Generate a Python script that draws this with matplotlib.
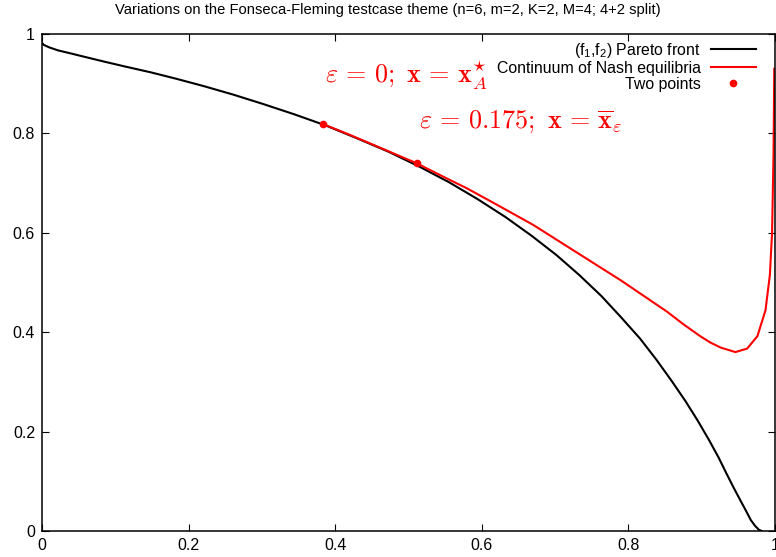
import matplotlib
matplotlib.use("Agg")
import matplotlib.pyplot as plt

# Pareto front (f1, f2)
pareto_f1 = [0.0, 0.0025, 0.010, 0.022, 0.039, 0.061, 0.086, 0.115, 0.148, 0.183,
             0.221, 0.261, 0.302, 0.345, 0.387, 0.430, 0.473, 0.515, 0.555, 0.594,
             0.632, 0.668, 0.702, 0.733, 0.763, 0.790, 0.816, 0.838, 0.859, 0.878,
             0.895, 0.910, 0.923, 0.934, 0.944, 0.953, 0.961, 0.967, 0.973, 0.978, 0.982]
pareto_f2 = [0.982, 0.978, 0.973, 0.967, 0.961, 0.953, 0.944, 0.934, 0.923, 0.910,
             0.895, 0.878, 0.859, 0.838, 0.816, 0.790, 0.763, 0.733, 0.702, 0.668,
             0.632, 0.594, 0.555, 0.515, 0.473, 0.430, 0.387, 0.345, 0.302, 0.261,
             0.221, 0.183, 0.148, 0.115, 0.086, 0.061, 0.039, 0.022, 0.010, 0.0025, 0.0]

# Continuum of Nash equilibria
nash_f1 = [0.383, 0.42, 0.46, 0.511, 0.55, 0.579, 0.62, 0.67, 0.73, 0.789, 0.822, 0.853, 0.875,
           0.898, 0.912, 0.926, 0.946, 0.962, 0.976, 0.987, 0.993, 0.996, 0.998, 0.999]
nash_f2 = [0.819, 0.797, 0.772, 0.740, 0.711, 0.690, 0.657, 0.616, 0.560, 0.505, 0.472, 0.441, 0.416,
           0.392, 0.379, 0.369, 0.360, 0.367, 0.392, 0.444, 0.515, 0.60, 0.76, 0.93]

# Two points
pts_f1 = [0.383, 0.511]
pts_f2 = [0.819, 0.740]

xticks = [0, 0.2, 0.4, 0.6, 0.8, 1]
yticks = [0, 0.2, 0.4, 0.6, 0.8, 1]
ticklabels = ['0', '0.2', '0.4', '0.6', '0.8', '1']

plt.rcParams['font.family'] = ['Liberation Sans', 'DejaVu Sans']
plt.rcParams['mathtext.fontset'] = 'custom'
plt.rcParams['mathtext.rm'] = 'Liberation Sans'
plt.rcParams['mathtext.it'] = 'Liberation Sans:italic'

fig = plt.figure(figsize=(7.76, 5.57), dpi=100)
ax = fig.add_axes([42 / 776, 26 / 557, 733 / 776, 497 / 557])

ax.plot(pareto_f1, pareto_f2, color='black', lw=1.5, label=r'(f$_\mathrm{1}$,f$_\mathrm{2}$) Pareto front')
ax.plot(nash_f1, nash_f2, color='#ff0000', lw=1.5, label='Continuum of Nash equilibria')
ax.plot(pts_f1, pts_f2, 'o', color='#ff0000', ms=4.5, label='Two points', zorder=5)

ax.set_xlim(0, 1)
ax.set_ylim(0, 1)
ax.set_xticks(xticks)
ax.set_yticks(yticks)
ax.set_xticklabels(ticklabels)
ax.set_yticklabels(ticklabels)
ax.tick_params(direction='in', length=5, width=0.8, top=True, right=True,
               labelsize=11.5, pad=5)
for s in ax.spines.values():
    s.set_linewidth(1.1)

# annotations
ax.text(0.386, 0.901, r'$\varepsilon\,=\,0;\ \mathbf{x}\,=\,\mathbf{x}^{\star}_{A}$',
        color='#ff0000', fontsize=18.8, math_fontfamily='cm', va='baseline')
ax.text(0.514, 0.812, r'$\varepsilon\,=\,0.175;\ \mathbf{x}\,=\,\overline{\mathbf{x}}_{\varepsilon}$',
        color='#ff0000', fontsize=18.8, math_fontfamily='cm', va='baseline')

ax.legend(loc='upper right', bbox_to_anchor=((756 - 42) / 733, 1 - 7 / 497),
          frameon=False, markerfirst=False, fontsize=11.4, handlelength=2.85,
          handletextpad=0.65, borderpad=0, borderaxespad=0, labelspacing=0.05)

fig.text(0.5, 1 - 10 / 557, 'Variations on the Fonseca-Fleming testcase theme (n=6, m=2, K=2, M=4; 4+2 split)',
         ha='center', va='center', fontsize=10.6)

fig.savefig('out.png', dpi=100)
